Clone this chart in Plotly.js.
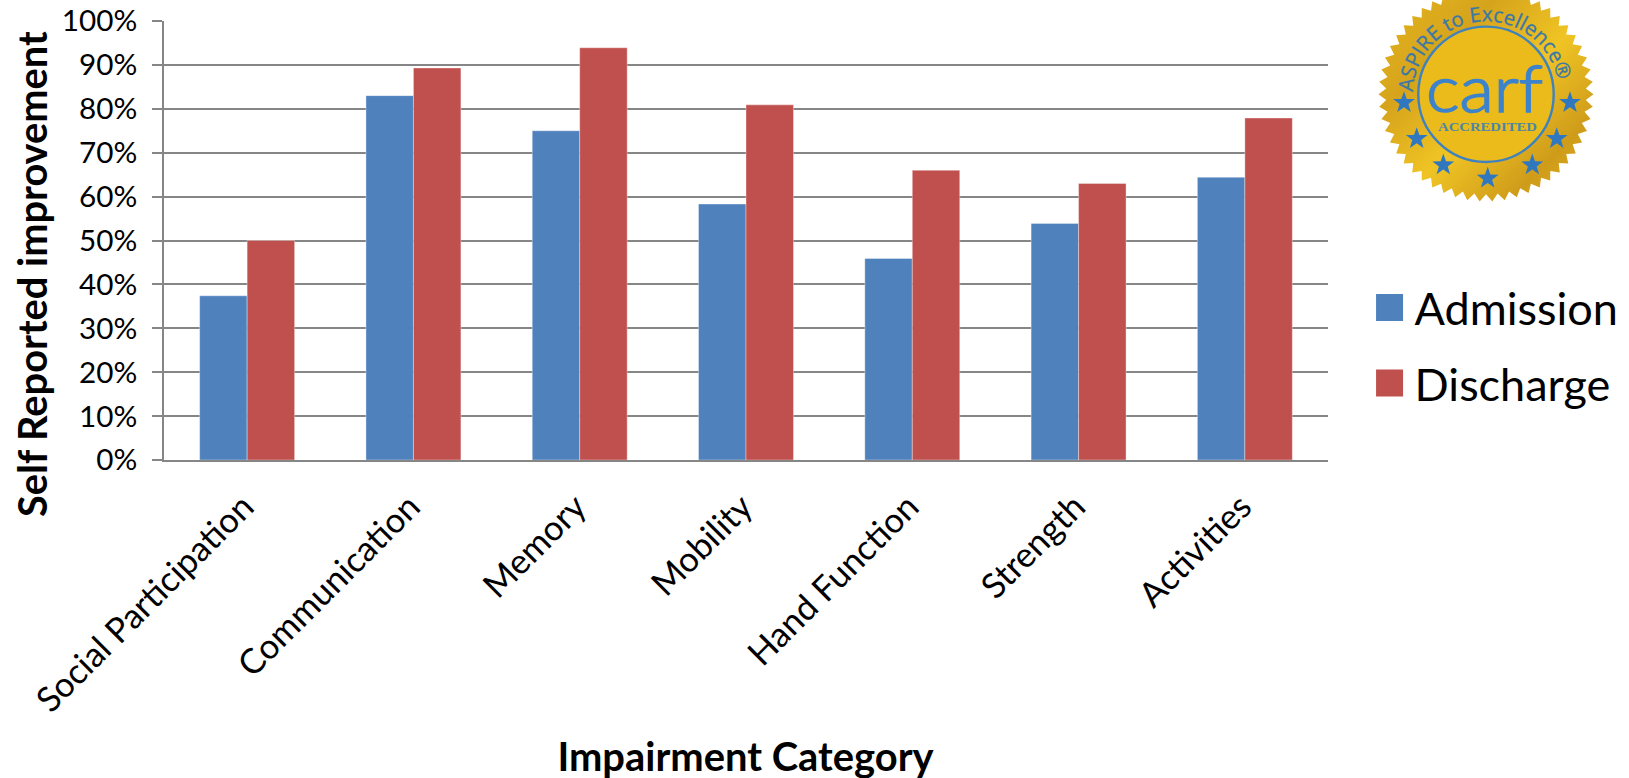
<!DOCTYPE html>
<html>
<head>
<meta charset="utf-8">
<script src="https://cdn.plot.ly/plotly-3.0.1.min.js"></script>
<style>
html,body{margin:0;padding:0;background:#fff;overflow:hidden}
#chart{position:absolute;left:0;top:0;width:1629px;height:778px}
#seal{position:absolute;left:0;top:0;pointer-events:none}
</style>
</head>
<body>
<div id="chart"></div>
<svg id="seal" width="1629" height="778" xmlns="http://www.w3.org/2000/svg">
  <defs>
    <linearGradient id="gold" x1="0" y1="0" x2="1" y2="1">
      <stop offset="0" stop-color="#e6b61e"/>
      <stop offset="0.3" stop-color="#d6a41c"/>
      <stop offset="0.55" stop-color="#f0c424"/>
      <stop offset="0.8" stop-color="#cf9c1a"/>
      <stop offset="1" stop-color="#e4b020"/>
    </linearGradient>
    <path id="arc" d=""/>
  </defs>
  <polygon id="burst" fill="url(#gold)"/>
  <circle id="disc" fill="#ebbb1c" stroke="#3f82bd" stroke-width="2.4"/>
  <g id="stars" fill="#2f78bf"></g>
  <text font-family="Open Sans" font-size="20.5" fill="#3a78a8" stroke="#3a78a8" stroke-width="0.3"><textPath href="#arc" id="arcText">ASPIRE to Excellence®</textPath></text>
  <text x="1426" y="111.7" font-family="Lato" font-size="66" font-weight="300" fill="#3c83cb" stroke="#3c83cb" stroke-width="1.6" textLength="117" lengthAdjust="spacingAndGlyphs">carf</text>
  <text x="1438" y="130.7" font-family="Liberation Serif" font-weight="700" font-size="13.5" fill="#4d86a6" textLength="99" lengthAdjust="spacingAndGlyphs">ACCREDITED</text>
</svg>
<script>
const categories = ["Social Participation","Communication","Memory","Mobility","Hand Function","Strength","Activities"];
const admission = [37.4,83,75,58.3,45.9,53.9,64.4];
const discharge = [50,89.3,93.9,80.9,66,63,77.9];
const seriesNames = ["Admission","Discharge"];
const seriesColors = ["#4F81BD","#C0504D"];
const tickValues = [0,10,20,30,40,50,60,70,80,90,100];
const tickLabels = ["0%","10%","20%","30%","40%","50%","60%","70%","80%","90%","100%"];
const yTitle = "Self Reported improvement";
const xTitle = "Impairment Category";
const grey = "#868686";
const FONT = "Lato, 'Open Sans', sans-serif";

const traces = [admission, discharge].map((v,i)=>({
  type:"bar", x:categories, y:v, name:seriesNames[i], legendgroup:seriesNames[i],
  marker:{color:seriesColors[i], line:{color:"rgba(255,255,255,0.45)", width:0.8}},
  hoverinfo:"x+y+name"
}));

const layout = {
  width:1629, height:778,
  margin:{l:164,r:301,t:21.3,b:318.3,pad:0,autoexpand:false},
  paper_bgcolor:"#fff", plot_bgcolor:"#fff",
  barmode:"group", bargap:0.429, bargroupgap:0,
  font:{family:FONT,color:"#000"},
  xaxis:{type:"category",tickangle:-45,tickfont:{size:34.6,family:FONT,color:"#000"},ticks:"",ticklabelstandoff:11,
    showline:true,linecolor:grey,linewidth:1.5,showgrid:false,automargin:false,
    title:{text:xTitle,font:{size:39.9,family:FONT,color:"#000",weight:700}}},
  yaxis:{range:[0,100],tickmode:"array",tickvals:tickValues,ticktext:tickLabels,
    tickfont:{size:29.7,family:FONT,color:"#000"},ticks:"outside",ticklen:10,tickwidth:1.5,tickcolor:grey,ticklabelstandoff:9,
    showgrid:true,gridcolor:grey,gridwidth:1.5,zeroline:false,showline:true,linecolor:grey,linewidth:1.5,automargin:false,
    title:{text:yTitle,font:{size:39.8,family:FONT,color:"#000",weight:700}}},
  showlegend:true,
  legend:{x:1.04,xanchor:"left",y:0.62,yanchor:"top",font:{size:45,family:FONT,color:"#000"},
    tracegroupgap:14,traceorder:"grouped",bgcolor:"rgba(0,0,0,0)",itemclick:false,itemdoubleclick:false}
};

function moveCentre(el,tx,ty){
  const b=el.getBoundingClientRect();
  const dx=tx===null?0:tx-(b.left+b.right)/2, dy=ty===null?0:ty-(b.top+b.bottom)/2;
  el.setAttribute("transform","translate("+dx+","+dy+") "+(el.getAttribute("transform")||""));
}
function tweak(){
  document.querySelectorAll("#chart .legend .legendpoints path").forEach(p=>{
    p.setAttribute("d","M8.5,13.5H-18.5V-13.5H8.5Z");
    p.style.strokeWidth="0";
  });
  moveCentre(document.querySelector("#chart .ytitle"),31,274);
  moveCentre(document.querySelector("#chart .xtitle"),746,756);
  document.querySelectorAll("#chart .xaxislayer-above .xtick").forEach(t=>{
    t.setAttribute("transform","translate(-3.5,0) "+(t.getAttribute("transform")||""));
  });
  const lg=document.querySelector("#chart .legend");
  const b=lg.querySelector(".legendtext").getBoundingClientRect();
  const dy=308-(b.top+b.bottom)/2;
  lg.setAttribute("transform","translate(0,"+dy+") "+(lg.getAttribute("transform")||""));
}
Plotly.newPlot("chart",traces,layout,{displayModeBar:false,responsive:false}).then(tweak);

// seal ornament
const cx=1486,cy=94.3,R=107.5,r=100,teeth=54;
let pts=[];
for(let k=0;k<teeth*2;k++){const a=Math.PI*k/teeth,q=k%2?r:R;pts.push((cx+q*Math.cos(a)).toFixed(1)+","+(cy+q*Math.sin(a)).toFixed(1));}
document.getElementById("burst").setAttribute("points",pts.join(" "));
const d=document.getElementById("disc");d.setAttribute("cx",cx);d.setAttribute("cy",cy);d.setAttribute("r",67.7);
const ra=73,a0=-Math.PI*0.99,a1=-Math.PI*0.0;
document.getElementById("arc").setAttribute("d",`M${cx+ra*Math.cos(a0)},${cy+ra*Math.sin(a0)} A${ra},${ra} 0 0 1 ${cx+ra*Math.cos(a1)},${cy+ra*Math.sin(a1)}`);
const starPos=[[1404,102.7],[1416.7,138.7],[1443.3,165],[1487.7,178.3],[1532.3,165],[1556.7,138.7],[1570,102.7]];
const g=document.getElementById("stars");
starPos.forEach(([x,y])=>{let s=[];for(let k=0;k<10;k++){const a=-Math.PI/2+Math.PI*k/5,q=k%2?4.6:11.5;s.push((x+q*Math.cos(a)).toFixed(1)+","+(y+q*Math.sin(a)).toFixed(1));}
  const p=document.createElementNS("http://www.w3.org/2000/svg","polygon");p.setAttribute("points",s.join(" "));g.appendChild(p);});
</script>
</body>
</html>
